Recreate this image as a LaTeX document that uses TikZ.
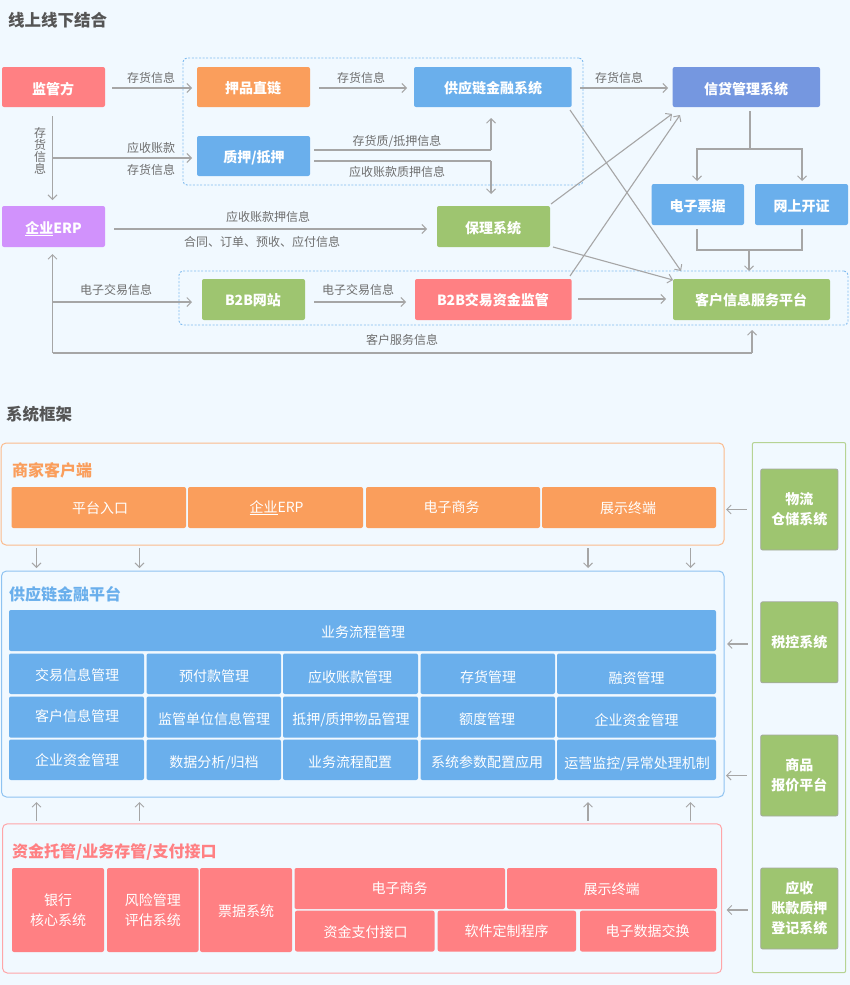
\documentclass[tikz,border=0pt]{standalone}
\usepackage{fontspec}
\setmainfont{Noto Sans CJK SC}
\usetikzlibrary{arrows.meta}
\definecolor{bgc}{HTML}{F1F9FF}
\definecolor{orc}{HTML}{FA9E5C}
\definecolor{rdc}{HTML}{FF8083}
\definecolor{blc}{HTML}{6AAFEC}
\definecolor{grc}{HTML}{9EC570}
\definecolor{puc}{HTML}{D192FC}
\definecolor{inc}{HTML}{7597E0}
\definecolor{lnc}{HTML}{A6A6A6}
\definecolor{lbc}{HTML}{6E6E6E}
\definecolor{ttc}{HTML}{555555}
\tikzset{
  basebox/.style={rectangle,rounded corners=2pt,inner sep=0pt,outer sep=0pt,text=white,align=center},
  boldbox/.style={basebox,font=\fontsize{14}{20}\selectfont\bfseries},
  itembox/.style={basebox,font=\fontsize{14}{20}\selectfont},
  sidebox/.style={boldbox,fill=grc,draw=lnc!90!grc,line width=.8pt},
  panel/.style={rectangle,rounded corners=5pt,inner sep=0pt,outer sep=0pt,line width=1pt,fill=bgc},
  dashbox/.style={rectangle,rounded corners=4pt,inner sep=0pt,outer sep=0pt,draw=blc!85!white,line width=.9pt,dash pattern=on 2pt off 1.6pt},
  flowlabel/.style={inner sep=0pt,text=lbc,font=\fontsize{12}{12}\selectfont},
  sectitle/.style={inner sep=0pt,anchor=west,text=ttc,font=\fontsize{16.5}{18}\selectfont\bfseries},
  paneltitle/.style={inner sep=0pt,anchor=west,font=\fontsize{16}{18}\selectfont\bfseries},
  conn/.style={draw=lnc,line width=1.1pt,-{Straight Barb[length=4.5pt,width=9pt,line width=1pt]}},
  plainconn/.style={draw=lnc,line width=1.1pt},
  thinconn/.style={draw=lnc,line width=1.1pt,-{Straight Barb[length=4.5pt,width=9pt,line width=.9pt]}}
}
% [style]{name}{x1}{y1}{x2}{y2}{text cx}{text cy}{text}
\newcommand\bx[9][]{%
  \pgfmathsetmacro\bxw{#5-#3}\pgfmathsetmacro\bxh{#6-#4}%
  \pgfmathsetmacro\bxc{(#3+#5)/2}\pgfmathsetmacro\bxd{(#4+#6)/2}%
  \pgfmathsetmacro\bxdx{2*(#7-\bxc)}\pgfmathsetmacro\bxdy{\bxd-#8}%
  \node[#1,minimum width=\bxw pt,minimum height=\bxh pt] (#2) at (\bxc,\bxd)
    {\raisebox{\dimexpr\bxdy pt-.36em\relax}[0pt][0pt]{\makebox[0pt]{\hspace*{\bxdx pt}#9}}};}
\begin{document}
\begin{tikzpicture}[x=1pt,y=-1pt]
\path[use as bounding box,fill=bgc] (0,0) rectangle (850,985);

% ---------- upper section
\node[sectitle] (t1) at (8,20) {线上线下结合};
\node[sectitle] (t2) at (6,414) {系统框架};

\node[dashbox,minimum width=400pt,minimum height=127pt] (dash1) at (383,121.5) {};
\node[dashbox,minimum width=669pt,minimum height=54pt] (dash2) at (513.5,298) {};

\bx[boldbox,fill=rdc]{jg}{2}{67}{105}{107}{53}{89}{监管方}
\bx[boldbox,fill=orc]{yp}{197}{67}{310}{107}{253}{88}{押品直链}
\bx[boldbox,fill=blc]{zy}{197}{136}{310}{176}{254}{157}{质押/抵押}
\bx[boldbox,fill=puc]{erp}{2}{206}{105}{247}{53.5}{228}{\underline{企业}ERP}
\bx[boldbox,fill=grc]{wz}{202}{279}{305}{320}{253}{300}{B2B网站}
\bx[boldbox,fill=blc]{gyl}{414}{67}{571.7}{107}{493}{88}{供应链金融系统}
\bx[boldbox,fill=inc]{xd}{672.7}{67}{820}{107}{746}{89}{信贷管理系统}
\bx[boldbox,fill=blc]{pj}{651.7}{184}{744}{225}{697.5}{206.5}{电子票据}
\bx[boldbox,fill=blc]{kz}{755}{184}{848}{225}{801.5}{206.5}{网上开证}
\bx[boldbox,fill=grc]{bl}{437}{206}{550}{247}{493}{228}{保理系统}
\bx[boldbox,fill=rdc]{jm}{415}{279}{571.7}{320}{493}{300}{B2B交易资金监管}
\bx[boldbox,fill=grc]{kh}{673}{279}{830}{320}{751}{300.5}{客户信息服务平台}

\node[flowlabel] (l1) at (151,78) {存货信息};
\node[flowlabel] (l2) at (361,78) {存货信息};
\node[flowlabel] (l3) at (619,78) {存货信息};
\node[flowlabel] (l4) at (151,148) {应收账款};
\node[flowlabel] (l5) at (151,170) {存货信息};
\node[flowlabel,align=center] (l6) at (40,151) {存\\货\\信\\息};
\node[flowlabel] (l7) at (397,141) {存货质/抵押信息};
\node[flowlabel] (l8) at (397,172) {应收账款质押信息};
\node[flowlabel] (l9) at (268,217) {应收账款押信息};
\node[flowlabel] (l10) at (262,242) {合同、订单、预收、应付信息};
\node[flowlabel] (l11) at (116,290) {电子交易信息};
\node[flowlabel] (l12) at (358,290) {电子交易信息};
\node[flowlabel] (l13) at (402,340) {客户服务信息};

\coordinate (j1) at (52.5,158);
\coordinate (j2) at (52.5,302);
\coordinate (j3) at (52.5,353);
\coordinate (j4) at (752,353);
\coordinate (j5) at (491,150);
\coordinate (j6) at (491,161);
\coordinate (j7) at (750,149);
\coordinate (j8) at (697,149);
\coordinate (j9) at (802,149);
\coordinate (j10) at (697,250);
\coordinate (j11) at (802,250);
\coordinate (j12) at (749,250);

\draw[conn] ([shift={(7,1)}]jg.east) -- ([shift={(-5,1)}]yp.west);
\draw[conn] ([shift={(9,1)}]yp.east) -- ([shift={(-7,1)}]gyl.west);
\draw[conn] ([shift={(8.3,1)}]gyl.east) -- ([shift={(-4.7,1)}]xd.west);
\draw[conn] ([shift={(-1,9)}]jg.south) -- ([shift={(-1,-6)}]erp.north);
\draw[conn] (j1) -- ([shift={(-5,2)}]zy.west);
\draw[plainconn] ([shift={(4,-6)}]zy.east) -- (j5);
\draw[conn] (j5) -- ([shift={(0,11)}]gyl.south -| j5);
\draw[plainconn] ([shift={(4,5)}]zy.east) -- (j6);
\draw[conn] (j6) -- ([shift={(0,-12)}]bl.north -| j6);
\draw[conn] ([shift={(9,2.5)}]erp.east) -- ([shift={(-10,2.5)}]bl.west);
\draw[conn] (j3) -- ([shift={(-1,7)}]erp.south);
\draw[conn] (j2) -- ([shift={(-10,2.5)}]wz.west);
\draw[plainconn] (j3) -- (j4);
\draw[conn] (j4) -- ([shift={(0,10)}]kh.south -| j4);
\draw[conn] ([shift={(9,2.5)}]wz.east) -- ([shift={(-9,2.5)}]jm.west);
\draw[conn] ([shift={(6.3,-.5)}]jm.east) -- ([shift={(-7,-.5)}]kh.west);
\draw[conn] ([shift={(-1.7,3)}]gyl.south east) -- ([shift={(8,-8)}]kh.north west);
\draw[conn] ([shift={(1,-2)}]bl.north east) -- ([shift={(-.7,7)}]xd.south west);
\draw[conn] ([shift={(-1.7,-3)}]jm.north east) -- ([shift={(7.3,8)}]xd.south west);
\draw[conn] ([shift={(3,0)}]bl.south east) -- ([shift={(0,1)}]kh.north west);
\draw[plainconn] ([shift={(0,4)}]xd.south -| j7) -- (j7);
\draw[conn] (j7) -- (j8) -- ([shift={(0,-3)}]pj.north -| j8);
\draw[conn] (j7) -- (j9) -- ([shift={(0,-3)}]kz.north -| j9);
\draw[plainconn] ([shift={(0,4)}]pj.south -| j10) -- (j10) -- (j11) -- ([shift={(0,4)}]kz.south -| j11);
\draw[conn] (j12) -- ([shift={(0,-8)}]kh.north -| j12);

% ---------- lower section
\node[panel,draw=orc!70!white,minimum width=723pt,minimum height=102pt] (pa) at (362.5,494) {};
\node[panel,draw=blc!75!white,minimum width=722.5pt,minimum height=226pt] (pb) at (362.75,684) {};
\node[panel,draw=rdc!70!white,minimum width=719.2pt,minimum height=149.3pt] (pc) at (362.1,898.4) {};
\node[panel,draw=grc!75!white,rounded corners=2pt,minimum width=93.4pt,minimum height=530.2pt] (pd) at (799,707.6) {};

\node[paneltitle,text=orc] (ta) at (12,470) {商家客户端};
\node[paneltitle,text=blc] (tb) at (9,594) {供应链金融平台};
\node[paneltitle,text=rdc] (tc) at (12,852) {资金托管/业务存管/支付接口};

\bx[itembox,fill=orc]{a1}{11.5}{487}{186}{528}{100}{508}{平台入口}
\bx[itembox,fill=orc]{a2}{188}{487}{363}{528}{276.5}{507.5}{\underline{企业}ERP}
\bx[itembox,fill=orc]{a3}{366}{487}{540}{528}{451.7}{507.5}{电子商务}
\bx[itembox,fill=orc]{a4}{542}{487}{716}{528}{628}{508}{展示终端}

\bx[itembox,fill=blc]{b0}{9}{610}{716}{651}{363}{632}{业务流程管理}
\bx[itembox,fill=blc]{b11}{9}{653.5}{144}{694}{77}{675}{交易信息管理}
\bx[itembox,fill=blc]{b12}{146.5}{653.5}{281}{694}{214}{676}{预付款管理}
\bx[itembox,fill=blc]{b13}{283}{653.5}{418}{694}{350}{677}{应收账款管理}
\bx[itembox,fill=blc]{b14}{420.5}{653.5}{555}{694}{488}{677}{存货管理}
\bx[itembox,fill=blc]{b15}{557}{653.5}{716}{694}{636.7}{678}{融资管理}
\bx[itembox,fill=blc]{b21}{9}{696.5}{144}{737.7}{77}{716}{客户信息管理}
\bx[itembox,fill=blc]{b22}{146.5}{696.5}{281}{737.7}{214}{719}{监管单位信息管理}
\bx[itembox,fill=blc]{b23}{283}{696.5}{418}{737.7}{351}{719}{抵押/质押物品管理}
\bx[itembox,fill=blc]{b24}{420.5}{696.5}{555}{737.7}{487}{719}{额度管理}
\bx[itembox,fill=blc]{b25}{557}{696.5}{716}{737.7}{636.5}{720}{企业资金管理}
\bx[itembox,fill=blc]{b31}{9}{739.5}{144}{780}{77}{760}{企业资金管理}
\bx[itembox,fill=blc]{b32}{146.5}{739.5}{281}{780}{214}{762}{数据分析/归档}
\bx[itembox,fill=blc]{b33}{283}{739.5}{418}{780}{350}{762}{业务流程配置}
\bx[itembox,fill=blc]{b34}{420.5}{739.5}{555}{780}{487}{762}{系统参数配置应用}
\bx[itembox,fill=blc]{b35}{557}{739.5}{716}{780}{637}{763}{运营监控/异常处理机制}

\node[itembox,fill=rdc,minimum width=92pt,minimum height=84pt] (c1) at (58,910) {银行\\核心系统};
\node[itembox,fill=rdc,minimum width=91.5pt,minimum height=84pt] (c2) at (152.75,910) {风险管理\\评估系统};
\bx[itembox,fill=rdc]{c3}{200}{868}{292}{952}{246}{911}{票据系统}
\bx[itembox,fill=rdc]{c4}{294.5}{868}{505}{909}{399.5}{888}{电子商务}
\bx[itembox,fill=rdc]{c5}{507}{868}{717}{909}{611.7}{889}{展示终端}
\bx[itembox,fill=rdc]{c6}{295}{910.7}{434.5}{951.5}{365.7}{932}{资金支付接口}
\bx[itembox,fill=rdc]{c7}{437.7}{910.7}{576}{951.5}{506.7}{931}{软件定制程序}
\bx[itembox,fill=rdc]{c8}{580}{910.7}{716}{951.5}{647.7}{931}{电子数据交换}

\node[sidebox,minimum width=77.3pt,minimum height=81pt] (d1) at (799.3,509.5) {物流\\仓储系统};
\node[sidebox,minimum width=77.3pt,minimum height=81pt] (d2) at (799.3,642.3) {税控系统};
\node[sidebox,minimum width=77.3pt,minimum height=81pt] (d3) at (799.3,775.5) {商品\\报价平台};
\node[sidebox,minimum width=77.3pt,minimum height=81pt] (d4) at (799.3,908.5) {应收\\账款质押\\登记系统};

\foreach \nm/\px in {aa/36.5,ab/139.5,ac/588,ad/690.5}{
  \coordinate (\nm) at (\px,0);
  \draw[thinconn] ([shift={(0,3)}]pa.south -| \nm) -- ([shift={(0,-3)}]pb.north -| \nm);
  \draw[thinconn] ([shift={(0,-3)}]pc.north -| \nm) -- ([shift={(0,5)}]pb.south -| \nm);
}
\draw[thinconn] ([shift={(-14,0)}]d1.west) -- ([shift={(2,0)}]pa.east |- d1.west);
\draw[thinconn] ([shift={(-13,1.7)}]d2.west) -- ([shift={(3,1.7)}]pb.east |- d2.west);
\draw[thinconn] ([shift={(-14,0)}]d3.west) -- ([shift={(2,0)}]pb.east |- d3.west);
\draw[thinconn] ([shift={(-13,1.5)}]d4.west) -- ([shift={(5,1.5)}]pc.east |- d4.west);
\end{tikzpicture}
\end{document}
